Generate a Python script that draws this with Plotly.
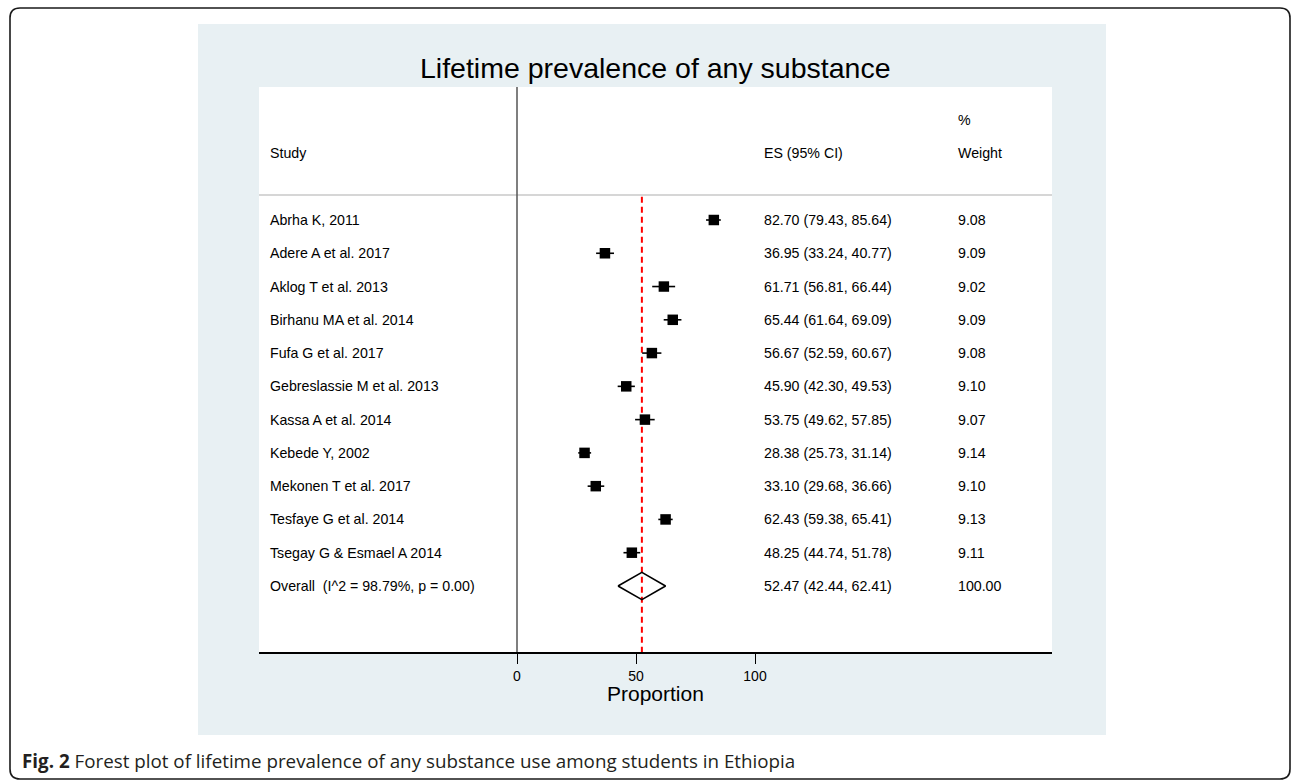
import plotly.graph_objects as go

# ---- data -------------------------------------------------------------
studies = [
    "Abrha K, 2011",
    "Adere A et al. 2017",
    "Aklog T et al. 2013",
    "Birhanu MA et al. 2014",
    "Fufa G et al. 2017",
    "Gebreslassie M et al. 2013",
    "Kassa A et al. 2014",
    "Kebede Y, 2002",
    "Mekonen T et al. 2017",
    "Tesfaye G et al. 2014",
    "Tsegay G & Esmael A 2014",
]
es = [82.70, 36.95, 61.71, 65.44, 56.67, 45.90, 53.75, 28.38, 33.10, 62.43, 48.25]
ci_low = [79.43, 33.24, 56.81, 61.64, 52.59, 42.30, 49.62, 25.73, 29.68, 59.38, 44.74]
ci_high = [85.64, 40.77, 66.44, 69.09, 60.67, 49.53, 57.85, 31.14, 36.66, 65.41, 51.78]
weights = [9.08, 9.09, 9.02, 9.09, 9.08, 9.10, 9.07, 9.14, 9.10, 9.13, 9.11]

overall_label = "Overall\u00a0\u00a0(I^2 = 98.79%, p = 0.00)"
overall_es, overall_low, overall_high = 52.47, 42.44, 62.41
overall_weight = 100.00

x_ticks = [0, 50, 100]
title_text = "Lifetime prevalence of any substance"
x_title = "Proportion"
caption = ("<b>Fig. 2</b> Forest plot of lifetime prevalence of any substance "
           "use among students in Ethiopia")

# ---- layout geometry (pixels on a 1292x780 page) ----------------------
W, H = 1292, 780
PX_PER_UNIT = 2.38
ZERO_PX = 517
PLOT_L, PLOT_R, PLOT_T, PLOT_B = 259, 1052, 87, 652
ROW0_PX, ROW_STEP = 220, 33.27


def px(x):
    return x / W


def py(y):
    return 1 - y / H


x_range = [(PLOT_L - ZERO_PX) / PX_PER_UNIT, (PLOT_R - ZERO_PX) / PX_PER_UNIT]
y_top = (PLOT_T - ROW0_PX) / ROW_STEP
y_bot = (PLOT_B - ROW0_PX) / ROW_STEP

FONT = "Liberation Sans, Arial, sans-serif"
rows = list(range(len(studies)))
overall_row = len(studies)
header_row = -2
header_line_row = -0.75

fig = go.Figure()

# study estimates with confidence intervals
fig.add_trace(go.Scatter(
    x=es, y=rows, mode="markers",
    marker=dict(symbol="square", color="black", opacity=1,
                size=[10.5 * (w / 9.1) ** 0.5 for w in weights],
                line=dict(width=0)),
    error_x=dict(type="data", symmetric=False,
                 array=[h - e for h, e in zip(ci_high, es)],
                 arrayminus=[e - l for e, l in zip(es, ci_low)],
                 color="black", thickness=1.6, width=0),
    hoverinfo="skip", showlegend=False,
))

# pooled estimate diamond
half_h = 0.41
fig.add_trace(go.Scatter(
    x=[overall_low, overall_es, overall_high, overall_es, overall_low],
    y=[overall_row, overall_row - half_h, overall_row,
       overall_row + half_h, overall_row],
    mode="lines", line=dict(color="black", width=1.6),
    hoverinfo="skip", showlegend=False,
))

shapes = [
    # outer rounded frame
    dict(type="path", xref="paper", yref="paper", layer="below",
         path=(f"M {px(20)},{py(8)} L {px(1280)},{py(8)} "
               f"Q {px(1290)},{py(8)} {px(1290)},{py(18)} "
               f"L {px(1290)},{py(769)} Q {px(1290)},{py(779)} {px(1280)},{py(779)} "
               f"L {px(20)},{py(779)} Q {px(10)},{py(779)} {px(10)},{py(769)} "
               f"L {px(10)},{py(18)} Q {px(10)},{py(8)} {px(20)},{py(8)} Z"),
         line=dict(color="#1a1a1a", width=1.6)),
    # tinted graph region
    dict(type="rect", xref="paper", yref="paper", layer="below",
         x0=px(198), x1=px(1106), y0=py(735), y1=py(24),
         fillcolor="#e8f0f3", line=dict(width=0)),
    # white plot region
    dict(type="rect", xref="paper", yref="paper", layer="below",
         x0=px(PLOT_L), x1=px(PLOT_R), y0=py(PLOT_B), y1=py(PLOT_T),
         fillcolor="white", line=dict(width=0)),
    # header separator
    dict(type="line", xref="paper", yref="y", layer="below",
         x0=px(PLOT_L), x1=px(PLOT_R), y0=header_line_row, y1=header_line_row,
         line=dict(color="#c8c8c8", width=1.5)),
    # null line
    dict(type="line", xref="x", yref="paper", layer="below",
         x0=0, x1=0, y0=py(PLOT_B), y1=py(PLOT_T),
         line=dict(color="#555555", width=1.5)),
    # pooled estimate reference line
    dict(type="line", xref="x", yref="y", layer="below",
         x0=overall_es, x1=overall_es, y0=header_line_row + 0.05, y1=y_bot,
         line=dict(color="#ff0000", width=2, dash="6px,4px")),
]

annotations = []


def text(x_px, y_val, s, size=14.2, yref="y", anchor="left"):
    annotations.append(dict(
        x=px(x_px), xref="paper", y=y_val, yref=yref, text=s,
        showarrow=False, xanchor=anchor, yanchor="middle",
        font=dict(family=FONT, size=size, color="black"),
    ))


# column headers
text(268, header_row, "Study")
text(762, header_row, "ES (95% CI)")
text(956, header_row - 1, "%")
text(956, header_row, "Weight")

# study rows
for r, name, e, lo, hi, w in zip(rows, studies, es, ci_low, ci_high, weights):
    text(268, r, name)
    text(762, r, f"{e:.2f} ({lo:.2f}, {hi:.2f})")
    text(956, r, f"{w:.2f}")

# pooled row
text(268, overall_row, overall_label)
text(762, overall_row, f"{overall_es:.2f} ({overall_low:.2f}, {overall_high:.2f})")
text(956, overall_row, f"{overall_weight:.2f}")

# chart title
annotations.append(dict(
    x=px(655.5), xref="paper", y=py(68), yref="paper", text=title_text,
    showarrow=False, xanchor="center", yanchor="middle",
    font=dict(family=FONT, size=28.5, color="black"),
))

# x-axis title
annotations.append(dict(
    x=px((PLOT_L + PLOT_R) / 2), xref="paper", y=py(693), yref="paper",
    text=x_title, showarrow=False, xanchor="center", yanchor="middle",
    font=dict(family=FONT, size=21, color="black"),
))

# figure caption
annotations.append(dict(
    x=px(20), xref="paper", y=py(761), yref="paper", text=caption,
    showarrow=False, xanchor="left", yanchor="middle",
    font=dict(family="Open Sans, sans-serif", size=18.8, color="#231f20"),
))

fig.update_layout(
    width=W, height=H,
    margin=dict(l=0, r=0, t=0, b=0),
    paper_bgcolor="white", plot_bgcolor="white",
    shapes=shapes, annotations=annotations,
    xaxis=dict(
        domain=[px(PLOT_L), px(PLOT_R)], range=x_range,
        tickvals=x_ticks, ticktext=[str(t) for t in x_ticks],
        ticks="outside", ticklen=10, tickwidth=1.3, tickcolor="black",
        tickfont=dict(family=FONT, size=14, color="black"),
        showline=True, linecolor="black", linewidth=1.5,
        showgrid=False, zeroline=False,
        fixedrange=True,
    ),
    yaxis=dict(
        domain=[py(PLOT_B), py(PLOT_T)], range=[y_bot, y_top],
        visible=False, showgrid=False, zeroline=False, fixedrange=True,
    ),
    showlegend=False,
)

fig.write_html("out.html")
